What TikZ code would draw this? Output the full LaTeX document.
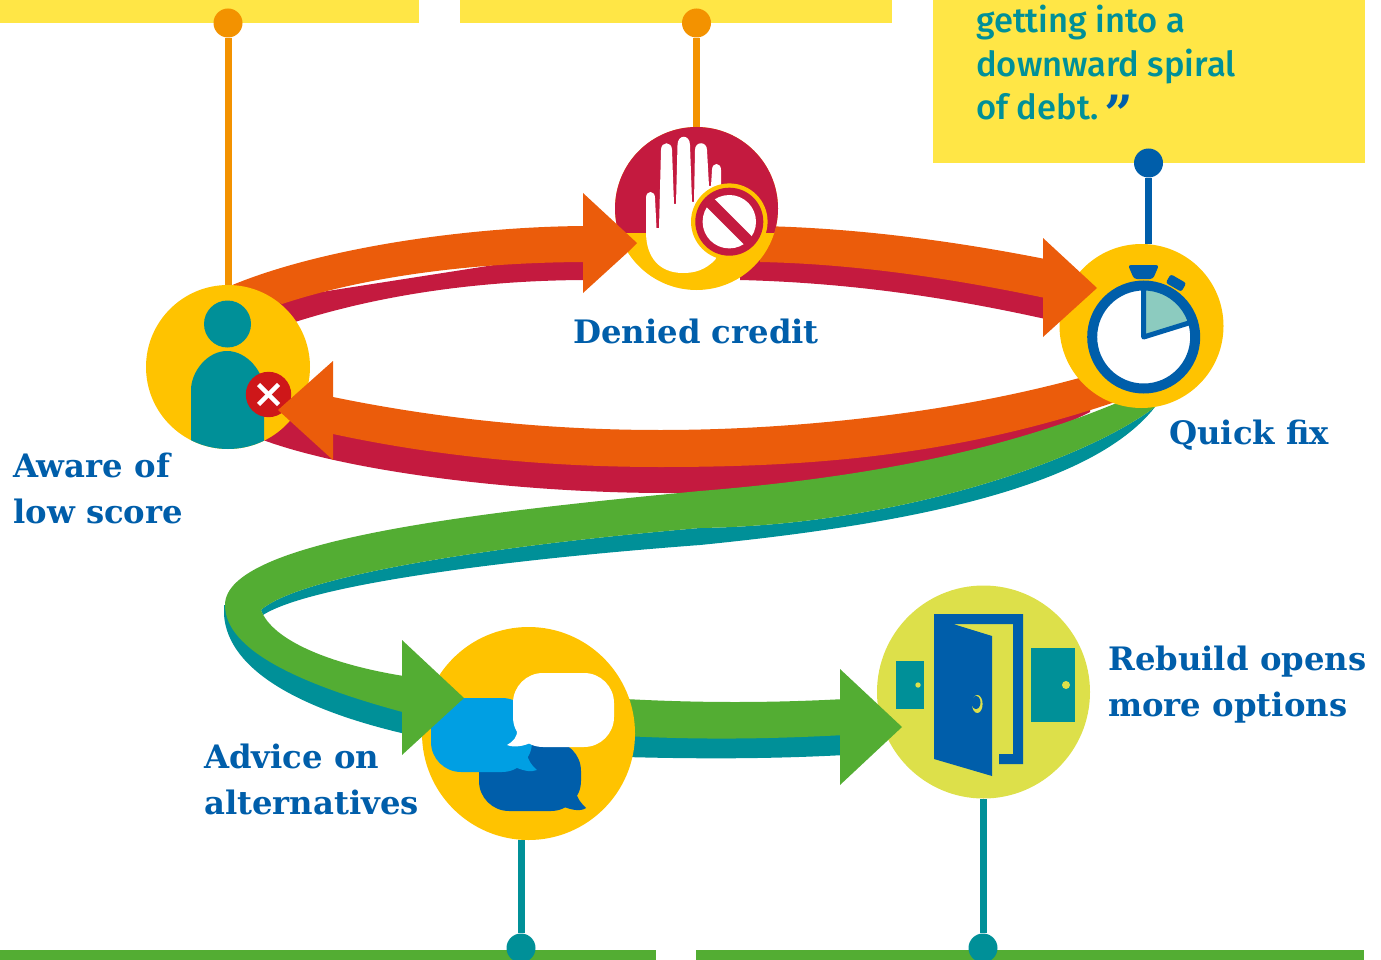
\documentclass[tikz,border=0pt]{standalone}
\usepackage{fontspec}
\usepackage{xcolor}
\usepackage{tikz}
\usetikzlibrary{positioning,calc}
\newfontfamily\labelfont{DejaVu Serif}
\newfontfamily\quotefont{Fira Sans Medium}
\definecolor{boxyellow}{HTML}{FFE646}
\definecolor{discyellow}{HTML}{FFC300}
\definecolor{disclime}{HTML}{DDE04A}
\definecolor{bandorange}{HTML}{EB5C0B}
\definecolor{bandred}{HTML}{C41A3F}
\definecolor{bandgreen}{HTML}{53AD33}
\definecolor{bandteal}{HTML}{009098}
\definecolor{inkblue}{HTML}{005EAA}
\definecolor{skyblue}{HTML}{009FE3}
\definecolor{stemorange}{HTML}{F39200}
\definecolor{crossred}{HTML}{CE1719}
\definecolor{paleteal}{HTML}{8CCBBF}
\tikzset{
  disc/.style={circle,inner sep=0pt,minimum size=#1},
  knob/.style={circle,inner sep=0pt,minimum size=29pt,fill=#1},
  stem/.style={line width=7pt,draw=#1},
  steplabel/.style={font=\labelfont\bfseries\fontsize{32.3}{46}\selectfont,text=inkblue,align=left,inner sep=0pt}
}
\begin{document}
\begin{tikzpicture}[x=1pt,y=-1pt]
    \useasboundingbox (0,0) rectangle (1381,960);

    % Boxes
    \fill[boxyellow] (0,0) rectangle (419,23);
    \fill[boxyellow] (460,0) rectangle (892,23);
    \fill[boxyellow] (933,0) rectangle (1365,163);
    \fill[bandgreen] (0,950) rectangle (656,960);
    \fill[bandgreen] (696,950) rectangle (1364,960);

    % Loop, top left
    \fill[bandred] (270,300) -- (590,250) -- (590,280) .. controls (480,280) and (380,295) .. (295,322) -- cycle;
    \fill[bandorange] (230,286) .. controls (320,248) and (470,226) .. (590,226) -- (590,262)
        .. controls (480,262) and (370,275) .. (282,304) -- cycle;

    % Loop, top right
    \fill[bandred] (740,250) -- (1050,285) -- (1050,320) .. controls (960,300) and (860,283) .. (740,280) -- cycle;
    \fill[bandorange] (760,226) .. controls (860,228) and (960,242) .. (1050,260) -- (1050,299)
        .. controls (960,280) and (860,264) .. (760,262) -- cycle;

    % Loop, bottom
    \fill[bandred] (1090,400) -- (640,450) -- (333,420) -- (262,420) -- (263,440)
        .. controls (350,472) and (520,493) .. (667,493) .. controls (850,498) and (1000,458) .. (1090,412) -- cycle;

    % Way out, teal under green
    \fill[bandteal] (1155,407) .. controls (1090,490) and (900,525) .. (700,545)
        .. controls (500,560) and (310,585) .. (263,615) -- (261,610)
        .. controls (300,575) and (500,545) .. (700,528)
        .. controls (900,525) and (1085,460) .. (1155,407) -- cycle;
    \fill[bandteal] (224,605) -- (224,615) .. controls (228,670) and (300,710) .. (410,735)
        -- (410,700) -- (300,660) -- (240,610) -- cycle;
    \fill[bandgreen] (1119,402) .. controls (1000,452) and (860,478) .. (700,491)
        .. controls (480,512) and (225,540) .. (225,605)
        .. controls (225,650) and (300,685) .. (410,714) -- (410,677)
        .. controls (330,665) and (272,640) .. (261,610)
        .. controls (300,575) and (500,545) .. (700,528)
        .. controls (900,525) and (1085,460) .. (1155,407) -- cycle;
    \fill[bandorange] (333,397) .. controls (430,417) and (540,430) .. (660,430)
        .. controls (800,430) and (960,412) .. (1090,375) -- (1115,402)
        .. controls (950,458) and (800,467) .. (660,467)
        .. controls (540,467) and (430,455) .. (333,434) -- cycle;

    % Way out, last stretch
    \fill[bandteal] (625,730) -- (845,730) -- (845,755) .. controls (770,759) and (700,759) .. (625,757) -- cycle;
    \fill[bandgreen] (625,699) .. controls (700,703) and (770,703) .. (845,699) -- (845,735)
        .. controls (770,739) and (700,740) .. (625,736) -- cycle;

    % Discs
    \node[disc=164pt,fill=discyellow] (aware) at (228,367) {};
    \node[disc=163pt,fill=discyellow] (denied) at (696.5,208.5) {};
    \node[disc=164pt,fill=discyellow] (quick) at (1141.5,326) {};
    \node[disc=213pt,fill=discyellow] (advice) at (528.5,733.5) {};
    \node[disc=213pt,fill=disclime] (rebuild) at (983.5,692) {};

    % Stems and knobs
    \node[knob=stemorange] (knobaware) at (228,23) {};
    \node[knob=stemorange] (knobdenied) at (696.5,23) {};
    \node[knob=inkblue] (knobquick) at (1148.5,163) {};
    \node[knob=bandteal] (knobadvice) at (521,948) {};
    \node[knob=bandteal] (knobrebuild) at (983,948) {};
    \draw[stem=stemorange] (knobaware) -- (aware);
    \draw[stem=stemorange] (knobdenied) -- (denied);
    \draw[stem=inkblue] (knobquick) -- (knobquick |- quick.north);
    \draw[stem=bandteal] (knobadvice) -- (knobadvice |- advice.south);
    \draw[stem=bandteal] (knobrebuild) -- (knobrebuild |- rebuild.south);

    % Person
    \begin{scope}
      \clip (aware.center) circle[radius=82pt];
      \fill[bandteal] (227.5,324) circle[radius=23.5pt];
      \fill[bandteal] (191,450) -- (191,390) .. controls (191,372) and (207,351) .. (227,351)
          .. controls (247,351) and (264,372) .. (264,390) -- (264,450) -- cycle;
    \end{scope}
    \fill[crossred] (268.5,394.5) circle[radius=22.7pt];
    \draw[white,line width=4.5pt] (258.5,384.5) -- (278.5,404.5);
    \draw[white,line width=4.5pt] (278.5,384.5) -- (258.5,404.5);

    % Hand
    \begin{scope}
      \clip (denied.center) circle[radius=81.5pt];
      \fill[bandred] (600,120) rectangle (800,233);
    \end{scope}
    \fill[white] (646,232) -- (646,198) .. controls (646,190) and (655,190) .. (655,198)
        -- (656.5,228) -- (659,228) -- (661,150) .. controls (661,141) and (672,141) .. (672,150)
        -- (674,204) -- (676,204) -- (677.5,145) .. controls (677.5,134) and (690,134) .. (690,145)
        -- (692,202) -- (694,202) -- (695,150) .. controls (695,141) and (707,141) .. (707,150)
        -- (709,186) -- (711,186) -- (712,170) .. controls (712,162) and (721,162) .. (721,170)
        -- (721,195) -- (735,220) -- (715,260) .. controls (705,270) and (695,273) .. (683,273)
        .. controls (660,273) and (646,258) .. (646,232) -- cycle;
    \fill[discyellow] (729.3,221.7) circle[radius=38.3pt];
    \fill[bandred] (729.3,221.7) circle[radius=34pt];
    \fill[white] (729.3,221.7) circle[radius=26.7pt];
    \draw[bandred,line width=11pt] (710,202.5) -- (748.5,241);

    % Stopwatch
    \fill[white] (1143.7,337) circle[radius=51pt];
    \fill[paleteal] (1143.7,337) -- (1143.7,287) .. controls (1165,287) and (1184,302) .. (1192,322) -- cycle;
    \draw[inkblue,line width=5pt,line join=round] (1143.7,287) -- (1143.7,337) -- (1192,322);
    \draw[inkblue,line width=10pt] (1143.7,337) circle[radius=51.5pt];
    \fill[inkblue,rounded corners=3pt] (1128,265) -- (1159,265) -- (1153,279) -- (1134,279) -- cycle;
    \fill[inkblue,rounded corners=2.5pt,rotate around={-30:(1176,283)}] (1167,278) rectangle (1185,288);

    % Door
    \fill[bandteal] (896,661) rectangle (924,709);
    \fill[disclime] (918,685) circle[radius=2.7pt];
    \fill[bandteal] (1031,648) rectangle (1075,722);
    \fill[disclime] (1066,685) circle[radius=4pt];
    \fill[inkblue] (934,614) -- (1023,614) -- (1023,764) -- (999,764) -- (999,754) -- (1013,754)
        -- (1013,624) -- (953,624) -- (992,636) -- (992,776) -- (934,759) -- cycle;
    \fill[disclime] (977.3,704) ellipse[x radius=5.3pt,y radius=9pt];
    \fill[inkblue] (976,702.5) ellipse[x radius=4.5pt,y radius=6.5pt];

    % Speech bubbles
    \fill[inkblue,rounded corners=30pt] (479,741) rectangle (581,811);
    \fill[inkblue] (576,790) .. controls (576,798) and (582,804) .. (586,808)
        .. controls (580,812) and (570,810) .. (560,805) -- cycle;
    \fill[skyblue,rounded corners=30pt] (431,698) rectangle (532,772);
    \fill[skyblue] (527,750) .. controls (526,758) and (532,766) .. (537,770)
        .. controls (530,773) and (522,770) .. (512,766) -- cycle;
    \fill[white,rounded corners=30pt] (513,673) rectangle (614,747);
    \fill[white] (517,730) .. controls (518,736) and (513,742) .. (507,745)
        .. controls (514,748) and (525,746) .. (532,742) -- cycle;

    % Arrow heads
    \fill[bandorange] (583,193) -- (637,243) -- (628,252) -- (583,293) -- cycle;
    \fill[bandorange] (1043,238) -- (1097,288) -- (1043,337) -- cycle;
    \fill[bandorange] (333,361) -- (278,410) -- (333,460) -- cycle;
    \fill[bandgreen] (402,640) -- (464,698) -- (402,755) -- cycle;
    \fill[bandgreen] (840,669) -- (902,727) -- (840,785) -- cycle;

    % Labels
    \node[steplabel,anchor=base] (lbldenied) at (696,343) {Denied credit};
    \node[steplabel,anchor=base west] (lblquick) at (1169,444) {Quick fix};
    \node[steplabel,anchor=west] (lblaware) at (13,488.5) {Aware of\\low score};
    \node[steplabel,anchor=west] (lbladvice) at (204,779.5) {Advice on\\alternatives};
    \node[steplabel,anchor=west] (lblrebuild) at (1108,684.5) {Rebuild opens\\more options};

    % Quote
    \node[font=\quotefont\fontsize{34.5}{43.5}\selectfont,text=bandteal,align=left,inner sep=0pt,anchor=west]
        (quote) at (976,63) {getting into a\\downward spiral\\of debt.\,\smash{\raisebox{-12pt}{\labelfont\bfseries\color{inkblue}\fontsize{50}{50}\selectfont”}}};
\end{tikzpicture}
\end{document}
